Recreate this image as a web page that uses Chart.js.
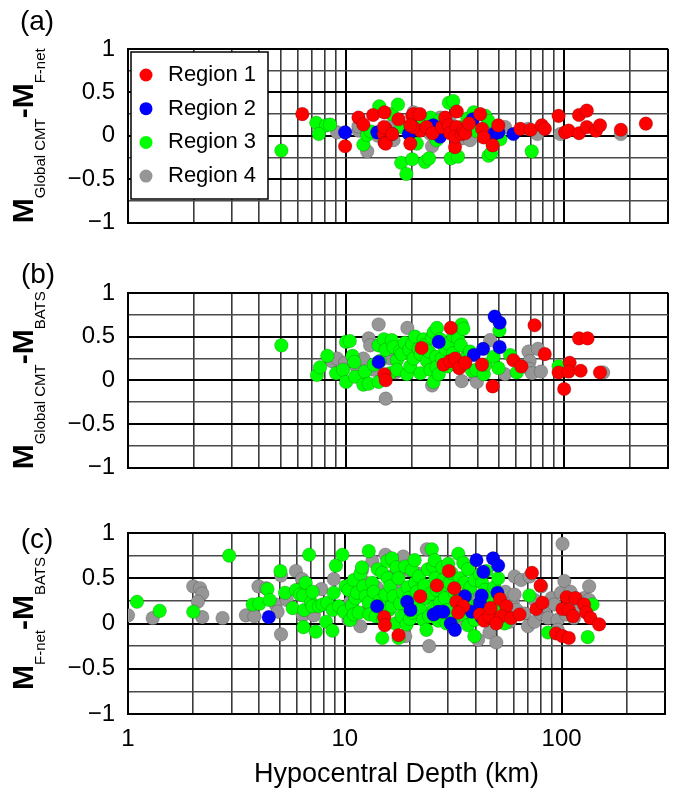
<!DOCTYPE html>
<html>
<head>
<meta charset="utf-8">
<script src="https://cdn.jsdelivr.net/npm/chart.js@4.4.1/dist/chart.umd.min.js"></script>
<style>
  body { margin: 0; background: #fff; }
  #wrap { position: relative; width: 676px; height: 795px; }
  .panel { position: absolute; left: 0; width: 676px; }
</style>
</head>
<body>
<div id="wrap">
  <div class="panel" style="top:0"><canvas id="pa" width="676" height="250"></canvas></div>
  <div class="panel" style="top:250px"><canvas id="pb" width="676" height="245"></canvas></div>
  <div class="panel" style="top:495px"><canvas id="pc" width="676" height="300"></canvas></div>
</div>
<script>
// depth (km) and magnitude difference, one list per region and panel
const regions = ['Region 1', 'Region 2', 'Region 3', 'Region 4'];
const xGrid = [1, 2, 3, 4, 5, 6, 7, 8, 9, 10, 20, 30, 40, 50, 60, 70, 80, 90, 100, 200, 300];
const xLabels = [1, 10, 100];

// (a) Global CMT - F-net
const aRegion1 = [[6.3,0.25],[9.9,-0.12],[11.4,0.21],[12.0,0.13],[13.3,0.24],[15.0,0.27],[15.2,0.08],[14.9,0.02],[15.0,-0.08],
  [15.2,-0.09],[14.9,0.10],[16.3,0.02],[17.4,0.19],[19.7,-0.09],[20.1,0.23],[20.4,0.25],[21.8,0.25],[21.9,0.06],[20.3,0.10],
  [19.7,0.12],[23.4,0.10],[24.9,0.03],[27.5,0.10],[28.5,0.21],[29.6,0.12],[30.0,0.03],[32.2,0.28],[32.2,0.10],[31.6,-0.13],
  [31.6,-0.01],[33.9,0.02],[34.5,0.06],[35.2,0.03],[36.6,0.14],[41.2,0.25],[42.0,0.08],[42.8,-0.02],[47.0,-0.11],[49.9,0.12],
  [63.0,0.08],[70.3,0.07],[79.0,0.12],[81.6,0.08],[94.3,0.23],[101,0.04],[104.8,0.06],[117,0.03],[117,0.24],[127,0.29],
  [127,0.10],[140,0.06],[146,0.12],[182,0.07],[237,0.14]];
const aRegion2 = [[9.9,0.04],[13.9,0.04],[16.2,0.02],[19.4,0.02],[25.1,0.12],[27.0,-0.01],[38.1,0.19],[47.5,0.02],[49.9,0.04],[58.5,0.02]];
const aRegion3 = [[5.05,-0.17],[7.3,0.15],[8.1,0.12],[7.5,0.02],[8.45,0.13],[12.0,-0.10],[12.5,0.01],[13.0,0.05],[14.2,0.34],
  [16.2,0.25],[17.3,0.36],[17.9,-0.31],[18.9,-0.44],[18.0,0.10],[20.1,-0.27],[21.1,-0.09],[22.5,0.15],[23.0,-0.30],[24.0,-0.26],
  [24.4,0.21],[26.0,-0.05],[27.0,0.18],[29.1,0.06],[29.6,0.38],[31.0,0.40],[30.2,-0.26],[32.6,-0.24],[34.0,0.10],[36.0,0.20],
  [38.5,0.27],[40.0,0.05],[43.5,0.23],[45.0,0.17],[45.0,-0.23],[46.3,-0.20],[51.0,-0.04],[71.0,-0.18]];
const aRegion4 = [[9.1,0.04],[11.4,0.06],[11.4,0.11],[12.5,-0.18],[14.0,0.0],[15.7,0.10],[16.5,-0.05],[20.4,0.27],[24.4,0.02],
  [24.8,-0.12],[27.0,0.21],[30.0,0.15],[33.9,-0.03],[37.0,-0.05],[44.0,0.05],[53.6,0.10],[68.5,0.08],[75.4,0.02],[96,0.02],[182,0.02]];

// (b) Global CMT - BATS
const bRegion1 = [[15.0,0.07],[15.2,0.0],[22.2,0.37],[30.2,0.60],[28.0,0.18],[30.0,0.22],[31.6,0.25],[33.0,0.14],[35.2,0.20],
  [42.0,0.18],[47.0,-0.07],[58.5,0.23],[63.6,0.16],[73.2,0.63],[81.5,0.30],[94.3,0.09],[100,-0.10],[106,0.20],[104.8,0.10],
  [117,0.48],[128,0.48],[119,0.11],[146,0.09]];
const bRegion2 = [[14.1,0.21],[26.6,0.44],[38.5,0.29],[42.5,0.36],[48,0.73],[50.6,0.66],[50.6,0.38]];
const bRegion3 = [[5.05,0.40],[7.35,0.06],[7.6,0.15],[8.2,0.28],[9.0,0.08],[9.7,0.12],[10.0,-0.02],[10.0,0.44],[10.4,0.45],
  [10.7,0.28],[10.9,0.21],[11.0,0.04],[12.0,-0.05],[12.2,0.10],[12.7,-0.04],[13.4,0.18],[14.1,-0.02],[14.1,0.40],[14.3,0.22],
  [14.9,0.47],[15.2,0.35],[15.9,0.08],[16.2,0.46],[16.5,0.38],[17.1,0.23],[17.1,0.12],[17.7,0.33],[18.0,0.30],[18.6,0.43],
  [19.0,0.07],[19.5,0.35],[19.7,0.16],[20.1,0.42],[20.4,0.25],[20.7,0.50],[21.5,0.36],[21.9,0.08],[22.0,0.30],[22.7,0.47],
  [23.0,0.40],[23.5,0.22],[24.0,0.33],[24.4,0.12],[24.8,0.49],[25.2,0.55],[25.2,-0.02],[25.9,0.27],[26.0,0.15],[26.1,0.60],
  [26.6,0.07],[27.0,0.47],[27.5,0.25],[28.5,0.36],[29.2,0.16],[29.5,0.42],[30.5,0.20],[31.0,0.51],[31.0,0.31],[32.6,0.48],
  [33.6,0.40],[33.9,0.64],[34.5,0.59],[35.2,0.25],[37.0,0.33],[37.8,0.11],[39.6,0.12],[42.8,0.07],[43.6,0.18],[47.5,0.27],
  [50.0,0.14],[50.5,0.57],[56.5,0.29],[60.7,0.09],[94.3,0.16]];
const bRegion4 = [[8.6,0.22],[9.1,0.25],[9.9,0.20],[11.2,0.15],[12.0,0.25],[12.7,0.48],[12.9,0.40],[13.5,0.12],[14.1,0.64],
  [15.2,-0.21],[15.9,0.25],[16.2,0.36],[16.8,0.09],[18.6,0.33],[19.1,0.60],[21.0,0.30],[24.8,-0.06],[33.9,-0.01],[36.0,0.28],
  [39.2,0.03],[39.8,-0.02],[45.8,0.46],[53.6,0.07],[68.6,0.33],[75.8,0.36],[69.4,0.22],[69.4,0.13],[71.2,0.08],[78.3,0.10],[151,0.09]];

// (c) F-net - BATS
const cRegion1 = [[15.2,0.07],[15.3,-0.02],[17.7,-0.13],[22.3,0.30],[26.6,0.42],[30.2,0.58],[32.0,0.39],[32.7,0.24],[35.2,0.19],
  [33.4,0.12],[42.0,0.10],[44.0,0.03],[46.5,0.08],[47.1,0.17],[52.0,0.27],[55.6,0.19],[52.8,0.08],[50.0,0.0],[58.5,0.06],
  [64,0.10],[73,0.56],[80,0.42],[76.5,0.16],[81.6,0.23],[94.3,-0.11],[101,-0.14],[108,-0.16],[105.6,0.29],[116,0.28],
  [101,0.16],[108,0.15],[113,0.08],[127,0.21],[130,0.12],[136,0.06],[149,-0.01]];
const cRegion2 = [[4.46,0.07],[14.1,0.19],[19.4,0.24],[20.1,0.15],[25.7,0.10],[27.0,0.13],[28.5,0.13],[30.8,0.0],[32.2,-0.07],
  [35.8,0.30],[38.5,0.13],[42.0,0.23],[42.8,0.31],[40.5,0.70],[43.6,0.57],[48.3,0.72],[51.0,0.64],[50.6,0.34],[42.8,0.07]];
const cRegion3 = [[1.1,0.24],[1.4,0.14],[2.0,0.13],[2.93,0.75],[3.76,0.21],[4.04,0.22],[4.4,0.38],[4.5,0.26],[5.05,0.58],
  [5.3,0.34],[5.75,0.17],[5.96,0.37],[6.2,0.32],[6.44,0.31],[6.44,-0.04],[6.5,0.15],[6.6,0.45],[6.85,0.76],[7.0,0.23],
  [7.1,0.35],[7.1,0.19],[7.35,-0.09],[7.6,0.19],[7.9,0.21],[8.2,0.02],[8.3,0.23],[8.77,-0.08],[8.8,0.15],[8.9,0.34],[9.1,0.64],
  [9.4,0.19],[9.75,0.76],[9.9,0.13],[10.1,0.41],[10.4,0.37],[10.6,0.04],[10.8,0.20],[11.0,0.48],[11.0,0.10],[11.2,0.28],
  [11.4,0.34],[11.6,0.12],[11.8,0.55],[12.0,0.62],[12.2,0.41],[12.5,0.30],[12.9,0.23],[12.9,0.80],[13.0,0.10],[13.4,0.45],
  [13.6,0.35],[13.9,0.08],[14.2,0.60],[14.5,0.25],[14.9,0.56],[14.9,-0.16],[15.0,0.05],[15.4,0.32],[15.7,0.69],[15.8,0.50],
  [16.0,0.15],[16.2,0.41],[16.5,0.19],[16.5,0.72],[16.8,0.30],[17.1,0.0],[17.3,0.62],[17.7,0.50],[17.7,-0.16],[18.0,0.22],
  [18.3,0.08],[18.6,0.34],[19.0,0.63],[19.3,-0.01],[19.5,0.40],[19.8,0.28],[20.0,0.05],[20.4,0.59],[20.5,0.12],[21.0,0.70],
  [21.1,0.45],[21.5,0.35],[21.8,0.23],[22.0,0.52],[22.5,0.15],[23.0,0.04],[23.3,0.42],[23.6,0.28],[23.8,-0.07],[24.2,0.60],
  [24.5,0.08],[25.0,0.33],[25.2,0.82],[25.6,0.63],[25.8,0.18],[26.0,0.70],[26.2,0.50],[26.6,0.37],[27.0,0.03],[27.5,0.23],
  [27.8,0.40],[28.2,0.62],[28.5,0.48],[29.0,0.28],[29.5,0.0],[29.8,0.15],[30.0,0.66],[30.5,0.45],[31.0,0.56],[31.5,0.05],
  [32.2,0.34],[33.0,0.25],[33.4,0.77],[34.0,0.50],[34.5,0.10],[35.2,0.67],[35.8,0.45],[36.5,0.32],[37.0,0.60],[37.0,-0.02],
  [37.8,0.19],[38.0,0.40],[39.6,-0.14],[39.8,0.04],[39.8,0.48],[41.0,0.20],[42.0,0.54],[43.0,0.45],[44.3,0.37],[45.0,0.58],
  [45.8,0.12],[46.0,0.30],[48.0,0.22],[49.0,0.40],[51.0,0.50],[52.0,0.12],[54.6,0.0],[71.0,0.31],[86.6,-0.10],[132,-0.15],[139,0.21]];
const cRegion4 = [[1.0,0.09],[1.3,0.06],[2.0,0.41],[2.15,0.39],[2.2,0.33],[2.1,0.24],[2.2,0.07],[2.73,0.06],[3.5,0.09],
  [3.83,0.08],[4.0,0.41],[4.33,0.39],[4.8,0.21],[4.9,0.13],[5.08,-0.12],[5.08,0.53],[5.4,0.26],[5.95,0.58],[6.35,0.49],
  [6.4,0.09],[7.2,0.09],[7.8,0.38],[8.9,0.49],[10.4,0.04],[10.6,0.24],[11.2,0.30],[11.8,-0.03],[12.0,0.59],[12.5,0.45],
  [12.8,0.15],[13.4,0.69],[14.0,0.40],[15.4,0.76],[16.5,0.52],[17.0,0.45],[18.6,0.74],[19.0,-0.14],[19.7,0.59],[20.0,0.20],
  [21.1,0.37],[22.0,0.55],[23.9,0.82],[24.5,-0.25],[26.0,0.25],[28.0,0.10],[29.1,0.30],[31.0,0.45],[35.0,0.05],[37,0.34],
  [40.0,0.30],[41.2,-0.18],[44.0,0.15],[46.5,-0.10],[48.0,0.08],[50,-0.21],[52.7,0.06],[55.0,0.35],[56.5,0.15],[57.7,0.02],
  [59.6,0.24],[60.7,0.52],[60.7,0.32],[62.0,0.15],[65,0.48],[67.5,0.11],[70,-0.03],[71.2,0.52],[75,0.02],[75,0.26],[80.5,0.41],
  [80.5,0.11],[84.6,0.19],[86.6,0.06],[90.0,0.28],[92.7,0.21],[96,0.04],[96,-0.07],[99.3,0.34],[101,0.88],[103,0.47],
  [105,0.10],[110,0.35],[114,0.21],[114,0.06],[120,0.15],[127,0.28],[134,0.41],[134,0.26]];

const colors = ['#ff0000', '#0000ff', '#00ff00', '#969696'];
const FONT = "'Liberation Sans', Arial, sans-serif";

Chart.defaults.font.family = FONT;
Chart.defaults.color = '#000';

const fmt = v => (v < 0 ? '\u2212' : '') + Math.abs(v);
const isDecade = v => Math.abs(Math.log10(v) - Math.round(Math.log10(v))) < 1e-9;
const isHalf = v => Math.abs(v * 2 - Math.round(v * 2)) < 1e-9;

// rotated y title with subscripts, panel tag, optional legend box
const panelDeco = {
  id: 'panelDeco',
  afterDraw(chart, args, opts) {
    const ctx = chart.ctx;
    const area = chart.chartArea;
    ctx.save();
    ctx.fillStyle = '#000';

    ctx.font = '28px ' + FONT;
    ctx.textAlign = 'center';
    ctx.textBaseline = 'middle';
    ctx.fillText(opts.tag, opts.tagX, opts.tagY);

    const parts = [];
    opts.title.forEach(([main, sub]) => {
      parts.push({ text: main, font: 'bold 30px ' + FONT, dy: 0 });
      parts.push({ text: sub, font: '15px ' + FONT, dy: 12 });
    });
    let total = 0;
    parts.forEach(p => { ctx.font = p.font; p.w = ctx.measureText(p.text).width; total += p.w; });
    ctx.translate(33, (area.top + area.bottom) / 2);
    ctx.rotate(-Math.PI / 2);
    ctx.textAlign = 'left';
    ctx.textBaseline = 'alphabetic';
    let pos = -total / 2;
    parts.forEach(p => { ctx.font = p.font; ctx.fillText(p.text, pos, p.dy); pos += p.w; });
    ctx.restore();

    if (opts.legend) {
      const bx = area.left + 3, by = area.top + 3, bw = 137, bh = 147;
      ctx.save();
      ctx.fillStyle = '#fff';
      ctx.fillRect(bx, by, bw, bh);
      ctx.strokeStyle = '#000';
      ctx.lineWidth = 1.5;
      ctx.strokeRect(bx, by, bw, bh);
      ctx.font = '22px ' + FONT;
      ctx.textBaseline = 'middle';
      chart.data.datasets.forEach((ds, i) => {
        const cy = by + 23 + i * 33.7;
        ctx.beginPath();
        ctx.arc(bx + 15, cy, 6.5, 0, Math.PI * 2);
        ctx.fillStyle = ds.backgroundColor;
        ctx.fill();
        ctx.fillStyle = '#000';
        ctx.fillText(ds.label, bx + 37, cy);
      });
      ctx.restore();
    }
  }
};

function makePanel(id, series, cfg) {
  const datasets = series.map((pts, i) => ({
    label: regions[i],
    data: pts.map(([x, y]) => ({ x, y })),
    backgroundColor: colors[i],
    borderColor: 'rgba(0,0,0,0.18)',
    borderWidth: 1,
    pointRadius: 6.8,
    pointHoverRadius: 6.8
  }));

  return new Chart(document.getElementById(id), {
    type: 'scatter',
    data: { datasets },
    plugins: [panelDeco],
    options: {
      responsive: false,
      animation: false,
      layout: { padding: { top: cfg.padTop, bottom: cfg.padBottom, left: 0, right: 7 } },
      plugins: {
        legend: { display: false },
        tooltip: { enabled: false },
        panelDeco: cfg.deco
      },
      scales: {
        x: {
          type: 'logarithmic',
          min: 1,
          max: 300,
          afterBuildTicks: s => { s.ticks = xGrid.map(v => ({ value: v })); },
          afterFit: s => { s.height = cfg.xHeight; },
          ticks: {
            display: cfg.showX,
            autoSkip: false,
            maxRotation: 0,
            padding: 11,
            font: { size: 24 },
            callback: v => (xLabels.includes(v) ? String(v) : '')
          },
          grid: {
            drawTicks: false,
            color: c => (isDecade(c.tick.value) || c.tick.value === 300 ? '#000' : '#3a3a3a'),
            lineWidth: c => (isDecade(c.tick.value) || c.tick.value === 300 ? 2 : 1.6)
          },
          border: { color: '#000', width: 2 },
          title: {
            display: cfg.showX,
            text: 'Hypocentral Depth (km)',
            font: { size: 27 },
            padding: { top: 0, bottom: 4 }
          }
        },
        y: {
          min: -1,
          max: 1,
          afterFit: s => { s.width = 128; },
          ticks: {
            stepSize: 0.25,
            autoSkip: false,
            padding: 13,
            font: { size: 24 },
            callback: v => (isHalf(v) ? fmt(v) : '')
          },
          grid: {
            drawTicks: false,
            color: c => (isHalf(c.tick.value) ? '#000' : '#4a4a4a'),
            lineWidth: c => (isHalf(c.tick.value) ? 2 : 1.5)
          },
          border: { color: '#000', width: 2 }
        }
      }
    }
  });
}

makePanel('pa', [aRegion1, aRegion2, aRegion3, aRegion4], {
  padTop: 49, padBottom: 22, xHeight: 0, showX: false,
  deco: { tag: '(a)', tagX: 37, tagY: 22, legend: true,
    title: [['M', 'Global CMT'], ['-M', 'F-net']] }
});
makePanel('pb', [bRegion1, bRegion2, bRegion3, bRegion4], {
  padTop: 43, padBottom: 22, xHeight: 0, showX: false,
  deco: { tag: '(b)', tagX: 38, tagY: 25, legend: false,
    title: [['M', 'Global CMT'], ['-M', 'BATS']] }
});
makePanel('pc', [cRegion1, cRegion2, cRegion3, cRegion4], {
  padTop: 38, padBottom: 0, xHeight: 81, showX: true,
  deco: { tag: '(c)', tagX: 37, tagY: 45, legend: false,
    title: [['M', 'F-net'], ['-M', 'BATS']] }
});
</script>
</body>
</html>
